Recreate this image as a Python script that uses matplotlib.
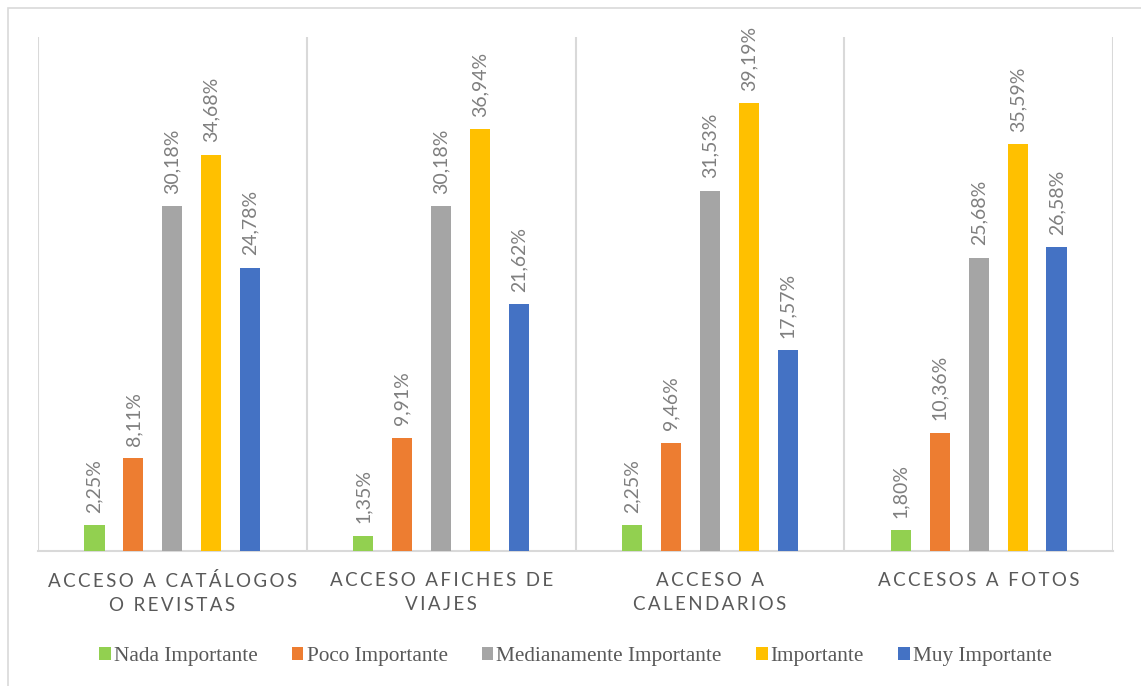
import numpy as np
import matplotlib.pyplot as plt
from matplotlib.patches import Rectangle

# Survey results by resource type
categories = ["ACCESO A CATÁLOGOS\nO REVISTAS", "ACCESO AFICHES DE\nVIAJES",
              "ACCESO A\nCALENDARIOS", "ACCESOS A FOTOS"]
series_names = ["Nada Importante", "Poco Importante", "Medianamente Importante",
                "Importante", "Muy Importante"]
nada = [2.25, 1.35, 2.25, 1.80]
poco = [8.11, 9.91, 9.46, 10.36]
mediana = [30.18, 30.18, 31.53, 25.68]
importante = [34.68, 36.94, 39.19, 35.59]
muy = [24.78, 21.62, 17.57, 26.58]

values = [nada, poco, mediana, importante, muy]
colors = ["#92D050", "#ED7D31", "#A5A5A5", "#FFC000", "#4472C4"]
grid_color = "#D9D9D9"
text_color = "#595959"


def spaced(label):
    # widen the letter spacing of the category labels
    return "\n".join("\u2009".join(line) for line in label.split("\n"))


fig = plt.figure(figsize=(11.41, 6.86), dpi=100)
ax = fig.add_axes([38 / 1141, 135 / 686, 1075 / 1141, 514 / 686])

fig.patches.append(Rectangle((8 / 1141, -0.1), 1.2, (678 + 0.1 * 686) / 686,
                             transform=fig.transFigure, fill=False,
                             edgecolor=grid_color, linewidth=1.2))

x = np.arange(len(categories))
step = 0.145
width = 0.075
for i, (name, vals, col) in enumerate(zip(series_names, values, colors)):
    pos = x + (i - 2) * step
    ax.bar(pos, vals, width=width, color=col, label=name, zorder=3)
    for px, v in zip(pos, vals):
        ax.annotate(f"{v:.2f}%".replace(".", ","), (px, v), xytext=(0, 9),
                    textcoords="offset points", rotation=90, ha="center",
                    va="bottom", fontsize=14, color="#7F7F7F", family="Lato")

ax.set_xlim(-0.5, len(categories) - 0.5)
ax.set_ylim(0, 45)
for b in np.arange(-0.5, len(categories), 1.0):
    ax.axvline(b, color=grid_color, linewidth=1.5, zorder=1)

for side in ["top", "left", "right"]:
    ax.spines[side].set_visible(False)
ax.spines["bottom"].set_color(grid_color)
ax.spines["bottom"].set_linewidth(1.5)
ax.set_yticks([])
ax.set_xticks(x)
ax.set_xticklabels([spaced(c) for c in categories], fontsize=13.5,
                   color=text_color, family="Lato", linespacing=1.5)
ax.tick_params(axis="x", length=0, pad=15)

ax.legend(loc="upper center", bbox_to_anchor=(0.5, -0.15), ncol=5,
          frameon=False, handlelength=0.55, handleheight=0.55, handletextpad=0.15,
          columnspacing=1.6, prop={"family": "Liberation Serif", "size": 15.3},
          labelcolor=text_color)

fig.savefig("out.png", dpi=100)
